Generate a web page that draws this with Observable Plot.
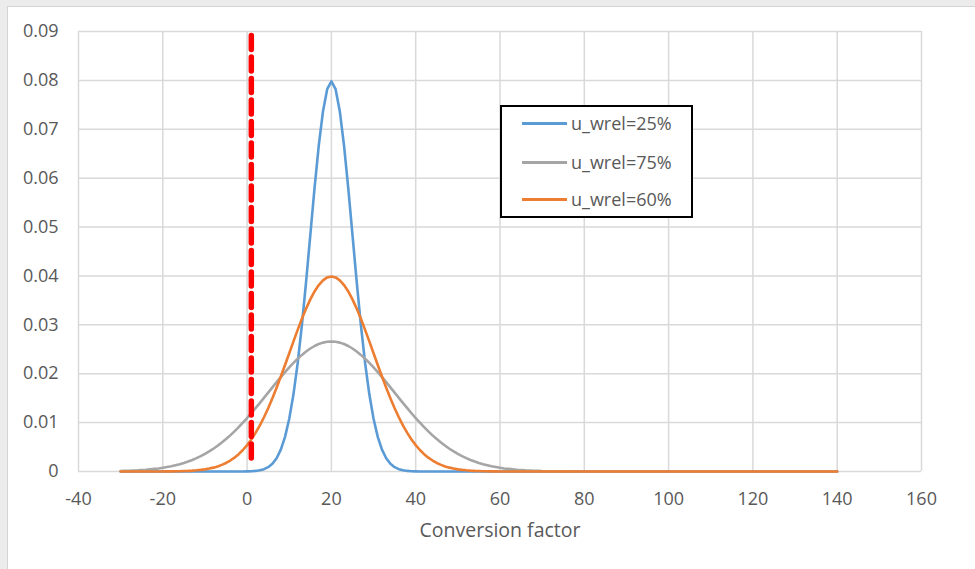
<!DOCTYPE html>
<html>
<head>
<meta charset="utf-8">
<script src="https://cdn.jsdelivr.net/npm/d3@7"></script>
<script src="https://cdn.jsdelivr.net/npm/@observablehq/plot@0.6"></script>
<style>
  html, body { margin: 0; padding: 0; background: #ececec; width: 975px; height: 569px; overflow: hidden; }
  #frame { position: absolute; left: 7px; top: 6px; width: 968px; height: 563px; background: #fff;
           border-left: 1px solid #d4d4d4; border-top: 1px solid #d4d4d4; }
  #chart { position: absolute; left: 0; top: 0; }
  #legend { position: absolute; left: 492px; top: 98px; width: 193px; height: 113px; box-sizing: border-box;
            border: 2px solid #000; background: #fff; font-family: 'Open Sans', sans-serif; font-size: 18px; color: #595959; }
  .row { position: absolute; left: 0; height: 0; }
  .swatch { position: absolute; left: 20px; width: 45px; height: 3px; top: -1.5px; }
  .name { position: absolute; left: 69px; top: -13px; line-height: 26px; white-space: nowrap; }
</style>
</head>
<body>
<div id="frame">
  <div id="chart"></div>
  <div id="legend"></div>
</div>
<script>
// Density curves sampled along the conversion factor axis
const xs = [
  -30,-29,-28,-27,-26,-25,-24,-23,-22,-21,-20,-19,-18,-17,-16,-15,-14,-13,-12,-11,
  -10,-9,-8,-7,-6,-5,-4,-3,-2,-1,0,1,2,3,4,5,6,7,8,9,
  10,11,12,13,14,15,16,17,18,19,20,21,22,23,24,25,26,27,28,29,
  30,31,32,33,34,35,36,37,38,39,40,41,42,43,44,45,46,47,48,49,
  50,51,52,53,54,55,56,57,58,59,60,61,62,63,64,65,66,67,68,69,
  70,80,90,100,110,120,130,140
];

const blue = [
  0,0,0,0,0,0,0,0,0,0,0,0,0,0,0,0,0,0,0,0,
  0,0,0,0,0,0,0,0,0,0.00001,0.00003,0.00006,0.00012,0.00025,0.00048,0.00089,0.00158,0.00272,0.00448,0.00709,
  0.01080,0.01579,0.02218,0.02995,0.03884,0.04839,0.05794,0.06664,0.07365,0.07821,0.07979,0.07821,0.07365,0.06664,0.05794,0.04839,0.03884,0.02995,0.02218,0.01579,
  0.01080,0.00709,0.00448,0.00272,0.00158,0.00089,0.00048,0.00025,0.00012,0.00006,0.00003,0.00001,0,0,0,0,0,0,0,0,
  0,0,0,0,0,0,0,0,0,0,0,0,0,0,0,0,0,0,0,0,
  0,0,0,0,0,0,0,0
];

const gray = [
  0.00010,0.00013,0.00016,0.00020,0.00024,0.00030,0.00036,0.00044,0.00053,0.00063,0.00076,0.00091,0.00107,0.00127,0.00149,0.00175,0.00204,0.00236,0.00273,0.00314,
  0.00360,0.00410,0.00466,0.00526,0.00592,0.00663,0.00739,0.00821,0.00907,0.00998,0.01093,0.01192,0.01295,0.01399,0.01506,0.01613,0.01720,0.01827,0.01931,0.02033,
  0.02130,0.02221,0.02307,0.02385,0.02455,0.02516,0.02567,0.02607,0.02636,0.02654,0.02660,0.02654,0.02636,0.02607,0.02567,0.02516,0.02455,0.02385,0.02307,0.02221,
  0.02130,0.02033,0.01931,0.01827,0.01720,0.01613,0.01506,0.01399,0.01295,0.01192,0.01093,0.00998,0.00907,0.00821,0.00739,0.00663,0.00592,0.00526,0.00466,0.00410,
  0.00360,0.00314,0.00273,0.00236,0.00204,0.00175,0.00149,0.00127,0.00107,0.00091,0.00076,0.00063,0.00053,0.00044,0.00036,0.00030,0.00024,0.00020,0.00016,0.00013,
  0.00010,0,0,0,0,0,0,0
];

const orange = [
  0,0,0,0,0,0,0,0,0,0,0.00001,0.00002,0.00003,0.00004,0.00006,0.00009,0.00012,0.00017,0.00024,0.00033,
  0.00044,0.00060,0.00079,0.00104,0.00136,0.00175,0.00224,0.00283,0.00355,0.00440,0.00540,0.00656,0.00790,0.00940,0.01109,0.01295,0.01497,0.01714,0.01942,0.02179,
  0.02420,0.02661,0.02897,0.03123,0.03332,0.03521,0.03683,0.03814,0.03910,0.03970,0.03989,0.03970,0.03910,0.03814,0.03683,0.03521,0.03332,0.03123,0.02897,0.02661,
  0.02420,0.02179,0.01942,0.01714,0.01497,0.01295,0.01109,0.00940,0.00790,0.00656,0.00540,0.00440,0.00355,0.00283,0.00224,0.00175,0.00136,0.00104,0.00079,0.00060,
  0.00044,0.00033,0.00024,0.00017,0.00012,0.00009,0.00006,0.00004,0.00003,0.00002,0.00001,0,0,0,0,0,0,0,0,0,
  0,0,0,0,0,0,0,0
];

const seriesNames = ["u_wrel=25%", "u_wrel=75%", "u_wrel=60%"];
const seriesColors = ["#5b9bd5", "#a5a5a5", "#ed7d31"];

// Vertical reference line near zero
const refX = [1, 1];
const refY = [0.0892, 0.0018];

const xTicks = [-40, -20, 0, 20, 40, 60, 80, 100, 120, 140, 160];
const yTicks = [0, 0.01, 0.02, 0.03, 0.04, 0.05, 0.06, 0.07, 0.08, 0.09];
const xLabel = "Conversion factor";

const toRows = ys => xs.map((x, i) => ({x, y: ys[i]}));
const refRows = refX.map((x, i) => ({x, y: refY[i]}));
const gridStyle = {stroke: "#d9d9d9", strokeOpacity: 1, strokeWidth: 1.5};

const chart = Plot.plot({
  width: 967,
  height: 562,
  marginLeft: 70,
  marginRight: 54,
  marginTop: 24,
  marginBottom: 98,
  style: {fontFamily: "'Open Sans', sans-serif", fontSize: "18px", color: "#595959", background: "transparent"},
  x: {domain: [-40, 160]},
  y: {domain: [0, 0.09]},
  marks: [
    Plot.gridX(xTicks, gridStyle),
    Plot.gridY(yTicks, gridStyle),
    Plot.axisX(xTicks, {tickSize: 0, tickPadding: 21, label: null, tickFormat: d => String(d)}),
    Plot.axisY(yTicks, {tickSize: 0, tickPadding: 20, label: null, tickFormat: d => d === 0 ? "0" : d.toFixed(2)}),
    Plot.line(toRows(blue), {x: "x", y: "y", stroke: seriesColors[0], strokeWidth: 2.6}),
    Plot.line(toRows(gray), {x: "x", y: "y", stroke: seriesColors[1], strokeWidth: 2.6}),
    Plot.line(toRows(orange), {x: "x", y: "y", stroke: seriesColors[2], strokeWidth: 2.6}),
    Plot.line(refRows, {x: "x", y: "y", stroke: "#ff0000", strokeWidth: 5.5, strokeDasharray: "14,7.5"}),
    Plot.text([xLabel], {frameAnchor: "bottom", dy: 59, lineAnchor: "middle", fill: "#595959", fontSize: 19.5})
  ]
});
document.getElementById("chart").appendChild(chart);

// Legend box
const legend = document.getElementById("legend");
const rowTops = [16, 55, 92];
seriesNames.forEach((name, i) => {
  const row = document.createElement("div");
  row.className = "row";
  row.style.top = rowTops[i] + "px";
  const sw = document.createElement("div");
  sw.className = "swatch";
  sw.style.background = seriesColors[i];
  const label = document.createElement("div");
  label.className = "name";
  label.textContent = name;
  row.appendChild(sw);
  row.appendChild(label);
  legend.appendChild(row);
});
</script>
</body>
</html>
